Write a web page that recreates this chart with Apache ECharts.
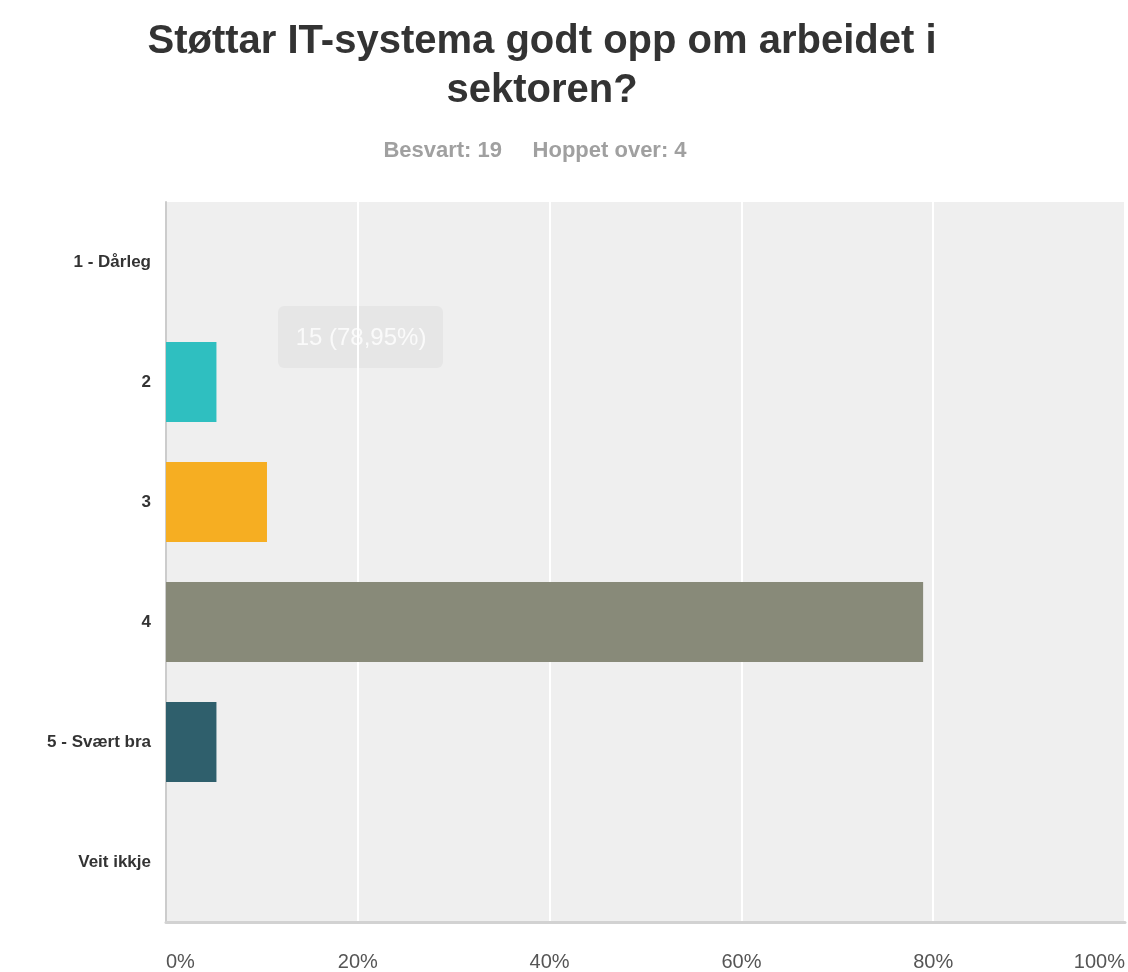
<!DOCTYPE html>
<html>
<head>
<meta charset="utf-8">
<script src="https://cdn.jsdelivr.net/npm/echarts@6/dist/echarts.min.js"></script>
<style>
  html, body { margin: 0; padding: 0; background: #fff; }
  #chart { width: 1128px; height: 972px; }
</style>
</head>
<body>
<div id="chart"></div>
<script>
// svar-kategoriar og tal
var categories = ['1 - Dårleg', '2', '3', '4', '5 - Svært bra', 'Veit ikkje'];
var counts = [0, 1, 2, 15, 1, 0];
var percents = [0, 5.26, 10.53, 78.95, 5.26, 0];
var barColors = ['#2FBFC0', '#2FBFC0', '#F6AE22', '#888A79', '#2F5F6C', '#888A79'];
var xTicks = [0, 20, 40, 60, 80, 100];

var myChart = echarts.init(document.getElementById('chart'));

var barData = [];
for (var i = 0; i < categories.length; i++) {
    barData.push({ value: percents[i], count: counts[i], itemStyle: { color: barColors[i] } });
}

var option = {
    backgroundColor: '#fff',
    textStyle: { fontFamily: 'Liberation Sans, Arial, sans-serif' },
    title: [
        {
            text: 'Støttar IT-systema godt opp om arbeidet i\nsektoren?',
            left: 537,
            top: 12,
            textAlign: 'center',
            textStyle: { fontSize: 40, fontWeight: 'bold', color: '#333', lineHeight: 49 }
        },
        {
            text: 'Besvart: 19     Hoppet over: 4',
            left: 530,
            top: 135,
            textAlign: 'center',
            textStyle: { fontSize: 22, fontWeight: 'bold', color: '#a0a0a0' }
        }
    ],
    grid: { left: 166, right: 2, top: 202, bottom: 50, show: true, backgroundColor: '#efefef', borderWidth: 0 },
    xAxis: {
        type: 'value',
        min: 0,
        max: 100,
        interval: 20,
        axisLine: { show: true, lineStyle: { color: '#d2d2d2', width: 3 } },
        axisTick: { show: false },
        splitLine: { show: true, lineStyle: { color: '#ffffff', width: 2 } },
        axisLabel: {
            margin: 30,
            color: '#555',
            fontSize: 20,
            alignMinLabel: 'left',
            alignMaxLabel: 'right',
            formatter: function (v) { return xTicks.indexOf(v) >= 0 ? v + '%' : ''; }
        }
    },
    yAxis: {
        type: 'category',
        data: categories,
        inverse: true,
        axisLine: { show: true, lineStyle: { color: '#cccccc', width: 2 } },
        axisTick: { show: false },
        axisLabel: { margin: 15, color: '#333', fontSize: 17, fontWeight: 'bold' }
    },
    series: [
        {
            type: 'bar',
            barWidth: 80,
            data: barData,
            silent: true
        }
    ],
    graphic: [
        {
            type: 'group',
            left: 278,
            top: 306,
            children: [
                { type: 'rect', shape: { x: 0, y: 0, width: 165, height: 62, r: 6 }, style: { fill: 'rgba(0,0,0,0.035)' } },
                { type: 'text', x: 83, y: 32, style: { text: counts[3] + ' (78,95%)', fill: '#fafafa', font: '24px Liberation Sans, Arial, sans-serif', textAlign: 'center', textVerticalAlign: 'middle' } }
            ]
        }
    ]
};
// bruk konfigurasjonen over
myChart.setOption(option);
</script>
</body>
</html>
